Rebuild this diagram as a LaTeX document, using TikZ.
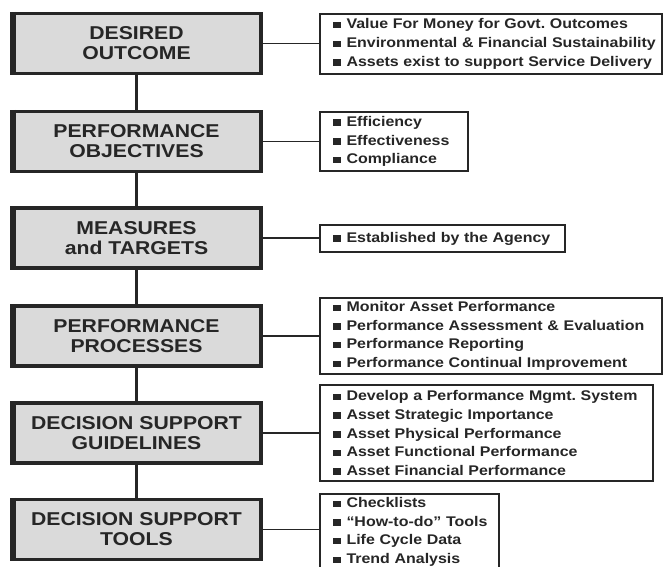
\documentclass[tikz,border=0pt]{standalone}
\usepackage{fontspec}
\newfontfamily\chartfont[FakeStretch=1.14]{Liberation Sans}
\definecolor{boxfill}{RGB}{218,218,218}
\definecolor{ink}{RGB}{38,38,38}
% one bullet line of a detail box
\newcommand{\itm}[1]{\mbox{\rule[0.5pt]{8pt}{6.5pt}\hspace{5.5pt}#1}}
\frenchspacing

\begin{document}
\begin{tikzpicture}[x=1pt,y=-1pt,
  stage/.style={draw=ink, line width=3.5pt, fill=boxfill,
    minimum width=249pt, minimum height=60pt, inner sep=0pt,
    align=center, text=ink,
    font=\chartfont\bfseries\fontsize{18.6}{20}\selectfont},
  detail/.style={draw=ink, line width=2pt, fill=white, anchor=west,
    align=left, inner xsep=13pt, inner ysep=0pt, text=ink,
    font=\chartfont\bfseries\fontsize{14}{18.7}\selectfont},
  spine/.style={draw=ink, line width=2.2pt},
  link/.style={draw=ink, line width=1.4pt}]

\path[use as bounding box] (0,0) rectangle (663,566);
\clip (0,0) rectangle (663,566);

% the six stages
\node[stage] (s1) at (136.5,43.5) {DESIRED\\OUTCOME};
\node[stage] (s2) at (136.5,141.5) {PERFORMANCE\\OBJECTIVES};
\node[stage] (s3) at (136.5,238) {MEASURES\\and TARGETS};
\node[stage] (s4) at (136.5,336) {PERFORMANCE\\PROCESSES};
\node[stage] (s5) at (136.5,433) {DECISION SUPPORT\\GUIDELINES};
\node[stage] (s6) at (136.5,529.5) {DECISION SUPPORT\\TOOLS};

% heavier left edge of each stage box
\foreach \n in {s1,s2,s3,s4,s5,s6}
  \draw[ink, line width=3pt] ([xshift=4.25pt]\n.north west) -- ([xshift=4.25pt]\n.south west);

% detail boxes
\node[detail, text width=316pt, minimum height=60pt] (d1) at (319,44)
  {\itm{Value For Money for Govt. Outcomes}\\
   \itm{Environmental \& Financial Sustainability}\\
   \itm{Assets exist to support Service Delivery}};
\node[detail, text width=122pt, minimum height=59pt] (d2) at (319,141.5)
  {\itm{Efficiency}\\
   \itm{Effectiveness}\\
   \itm{Compliance}};
\node[detail, text width=219pt, minimum height=27pt] (d3) at (319,238.5)
  {\itm{Established by the Agency}};
\node[detail, text width=316pt, minimum height=76pt] (d4) at (319,336)
  {\itm{Monitor Asset Performance}\\
   \itm{Performance Assessment \& Evaluation}\\
   \itm{Performance Reporting}\\
   \itm{Performance Continual Improvement}};
\node[detail, text width=307pt, minimum height=96pt] (d5) at (319,433)
  {\itm{Develop a Performance Mgmt. System}\\
   \itm{Asset Strategic Importance}\\
   \itm{Asset Physical Performance}\\
   \itm{Asset Functional Performance}\\
   \itm{Asset Financial Performance}};
\node[detail, text width=153pt, minimum height=76pt] (d6) at (319,532)
  {\itm{Checklists}\\
   \itm{“How-to-do” Tools}\\
   \itm{Life Cycle Data}\\
   \itm{Trend Analysis}};

% vertical spine between stages
\draw[spine] (s1) -- (s2);
\draw[spine] (s2) -- (s3);
\draw[spine] (s3) -- (s4);
\draw[spine] (s4) -- (s5);
\draw[spine] (s5) -- (s6);

% links from stages to their details
\foreach \i in {1,...,6}
  \draw[link] (s\i.east) -- (s\i.east -| d\i.west);
\end{tikzpicture}
\end{document}
